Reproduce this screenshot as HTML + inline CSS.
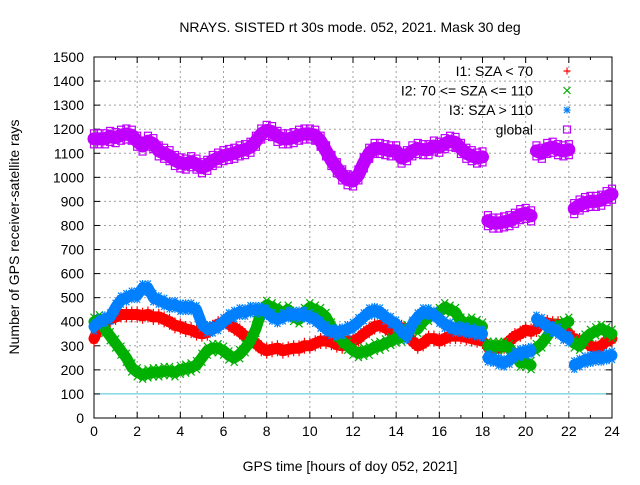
<!DOCTYPE html>
<html><head><meta charset="utf-8"><style>
body{margin:0;background:#fff}
svg text{font-family:"Liberation Sans",sans-serif;font-size:14px;fill:#000}
</style></head><body>
<svg id="c" width="640" height="480" xmlns="http://www.w3.org/2000/svg">
<rect width="640" height="480" fill="#fff"/>
<text x="350" y="32" text-anchor="middle">NRAYS. SISTED rt 30s mode. 052, 2021. Mask 30 deg</text>
<text transform="translate(19,237) rotate(-90)" text-anchor="middle">Number of GPS receiver-satellite rays</text>
<text x="350" y="471" text-anchor="middle">GPS time [hours of doy 052, 2021]</text>
<g id="grid"></g>
<g id="axes"></g>
<g id="series"></g>
<g id="legend"></g>
</svg>
<script>
const xTicks=[0,2,4,6,8,10,12,14,16,18,20,22,24];
const yTicks=[0,100,200,300,400,500,600,700,800,900,1000,1100,1200,1300,1400,1500];
const hours=[];for(let i=0;i<=96;i++)hours.push(i*0.25);
const globalV=[1160,1160,1160,1170,1165,1175,1180,1175,1150,1130,1150,1140,1110,1100,1090,1070,1060,1055,1065,1055,1040,1050,1070,1080,1090,1095,1100,1110,1115,1125,1150,1180,1195,1190,1170,1160,1160,1165,1175,1180,1180,1175,1150,1110,1070,1040,1010,990,985,1010,1060,1100,1120,1120,1115,1110,1110,1080,1090,1110,1120,1115,1115,1130,1125,1140,1150,1145,1120,1100,1090,1080,1085,820,810,810,815,820,830,845,850,840,1110,1100,1120,1125,1115,1110,1115,870,885,895,900,900,905,920,930];
const i1V=[330,380,400,410,420,430,430,430,430,425,430,420,420,410,400,385,380,370,365,355,350,355,375,390,400,390,375,360,340,320,310,290,280,285,290,280,285,290,290,300,300,310,320,320,315,305,300,320,320,330,350,365,380,385,375,360,380,375,350,320,300,310,330,330,320,330,340,340,340,335,330,325,320,295,290,290,300,320,340,350,365,360,370,400,395,390,390,370,350,330,320,320,300,290,300,320,330];
const i2V=[400,410,370,340,310,280,250,210,190,180,185,190,190,195,195,190,200,205,210,220,250,280,290,290,280,260,250,265,290,320,370,440,470,460,450,440,450,420,410,440,460,450,440,420,380,350,320,300,280,270,275,280,295,300,310,320,330,335,370,380,370,400,420,430,440,460,450,440,400,395,400,390,380,300,300,300,300,290,260,230,230,220,290,310,340,370,380,390,400,310,300,330,350,360,370,360,350];
const i3V=[380,400,410,420,460,490,500,510,510,540,540,500,490,480,470,470,460,460,460,450,390,370,370,380,400,420,430,440,440,450,450,450,440,420,410,420,430,430,430,430,420,410,390,370,360,355,360,370,380,400,420,440,445,440,420,405,390,360,340,390,420,440,440,430,410,390,380,370,370,365,360,355,350,250,245,235,230,240,260,270,275,280,410,400,380,370,360,340,330,220,230,240,245,250,250,255,260];
const breaks=[73,82,89];
const X0=94,X1=612,Y0=418,Y1=57;
const sx=v=>X0+(v/24)*(X1-X0), sy=v=>Y0-(v/1500)*(Y0-Y1);
const NS="http://www.w3.org/2000/svg";
function mk(t,a,p){const e=document.createElementNS(NS,t);for(const k in a)e.setAttribute(k,a[k]);p.appendChild(e);return e;}
const grid=document.getElementById('grid'),axes=document.getElementById('axes'),ser=document.getElementById('series'),leg=document.getElementById('legend');
xTicks.forEach(t=>{const x=sx(t);
 if(t>0&&t<24){const l=mk('line',{x1:x,x2:x,y1:Y0,y2:Y1,stroke:'#a0a0a0','stroke-dasharray':'2,3'},grid);}
 mk('line',{x1:x,x2:x,y1:Y0,y2:Y0-6,stroke:'#000'},axes);mk('line',{x1:x,x2:x,y1:Y1,y2:Y1+6,stroke:'#000'},axes);
 const tx=mk('text',{x:x,y:Y0+18,'text-anchor':'middle'},axes);tx.textContent=t;
 });
for(let t=1;t<24;t+=2){const x=sx(t);mk('line',{x1:x,x2:x,y1:Y0,y2:Y0-3,stroke:'#000'},axes);mk('line',{x1:x,x2:x,y1:Y1,y2:Y1+3,stroke:'#000'},axes);}
yTicks.forEach(t=>{const y=sy(t);
 if(t>0&&t<1500&&t!==100){const l=mk('line',{x1:X0,x2:X1,y1:y,y2:y,stroke:'#a0a0a0','stroke-dasharray':'2,3'},grid);}
 mk('line',{x1:X0,x2:X0+6,y1:y,y2:y,stroke:'#000'},axes);mk('line',{x1:X1,x2:X1-6,y1:y,y2:y,stroke:'#000'},axes);
 const tx=mk('text',{x:X0-10,y:y+5,'text-anchor':'end'},axes);tx.textContent=t;
 });
const ref=mk('line',{x1:X0,x2:X1,y1:sy(100),y2:sy(100),stroke:'#40c8d0'},grid);

mk('rect',{x:X0,y:Y1,width:X1-X0,height:Y0-Y1,fill:'none',stroke:'#000'},axes);
function segs(vals){const out=[];let cur=[];vals.forEach((v,i)=>{if(breaks.includes(i)&&cur.length){out.push(cur);cur=[];}cur.push([sx(hours[i]),sy(v)]);});out.push(cur);return out;}
function marker(type,x,y,c,g){
 if(type==='plus'){mk('path',{d:`M${x-3.5},${y}h7M${x},${y-3.5}v7`,stroke:c,'stroke-width':1.2},g);}
 else if(type==='x'){mk('path',{d:`M${x-3.5},${y-3.5}l7,7M${x-3.5},${y+3.5}l7,-7`,stroke:c,'stroke-width':1.2},g);}
 else if(type==='star'){mk('path',{d:`M${x-3.5},${y}h7M${x},${y-3.5}v7M${x-3},${y-3}l6,6M${x-3},${y+3}l6,-6`,stroke:c,'stroke-width':1.2},g);}
 else mk('rect',{x:x-3.5,y:y-3.5,width:7,height:7,fill:'none',stroke:c,'stroke-width':1.2},g);}
function draw(vals,c,type,w,name){
 const g=mk('g',{},ser);
 segs(vals).forEach(s=>{const p=mk('polyline',{points:s.map(q=>q.join(',')).join(' '),fill:'none',stroke:c,'stroke-width':w,'stroke-linejoin':'round','stroke-linecap':'round'},g);
  });
 vals.forEach((v,i)=>{marker(type,sx(hours[i]),sy(v)-w/2+1,c,g);marker(type,sx(hours[i]),sy(v)+w/2-1,c,g);});
}
draw(i1V,'#ff0000','plus',11,'series-i1');
draw(i2V,'#00b000','x',11,'series-i2');
draw(i3V,'#0080ff','star',11,'series-i3');
draw(globalV,'#c000ff','sq',13,'series-global');
const items=[['I1: SZA < 70','#ff0000','plus'],['I2: 70 <= SZA <= 110','#00b000','x'],['I3: SZA > 110','#0080ff','star'],['global','#c000ff','sq']];
items.forEach((it,i)=>{const y=71+i*19.5;const g=mk('g',{},leg);
 
 const t=mk('text',{x:533,y:y+5,'text-anchor':'end'},g);t.textContent=it[0];marker(it[2],567,y,it[1],g);});
</script>
</body></html>
